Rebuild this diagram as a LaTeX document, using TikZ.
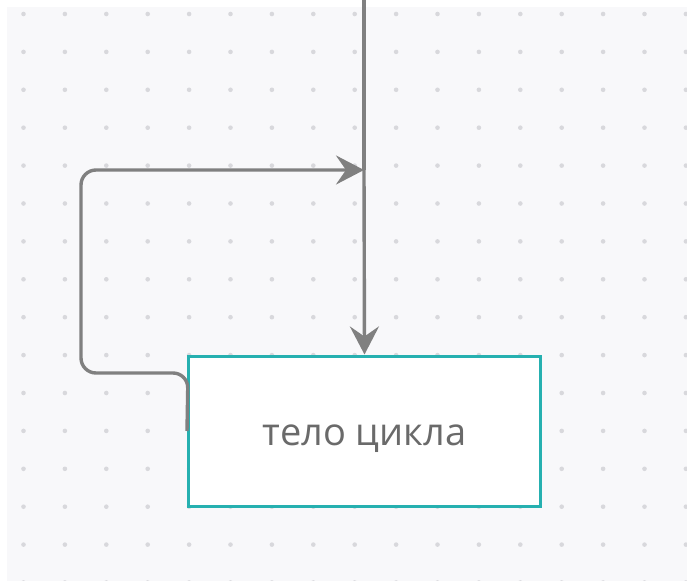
\documentclass[tikz,border=0pt]{standalone}
\usepackage{fontspec}
\setmainfont{Open Sans}
\usetikzlibrary{arrows.meta}
\definecolor{panel}{HTML}{F8F8FA}
\definecolor{dotc}{HTML}{D8D8DC}
\definecolor{linec}{HTML}{808080}
\definecolor{tealc}{HTML}{26B0B0}
\definecolor{textc}{HTML}{6A6A6A}
\tikzset{
  conn/.style={draw=linec, line width=3.4bp, rounded corners=15bp},
  tip/.style={-{Stealth[length=28bp,width=29bp,inset=10bp]}},
  bodybox/.style={draw=tealc, line width=3bp, fill=white, minimum width=352bp, minimum height=150bp, text=textc, font=\fontsize{38bp}{44bp}\selectfont},
}
\begin{document}
\begin{tikzpicture}[x=1bp,y=-1bp]
\useasboundingbox (0,0) rectangle (687,581);
\fill[white] (0,0) rectangle (687,581);
\fill[panel] (7,7) rectangle (687,581);
\foreach \i in {0,...,16}{
  \foreach \j in {0,...,15}{
    \fill[dotc] (23.5+41.4*\i,14+37.9*\j) circle (2.3bp);
  }
}
\node[bodybox] (body) at (364.5,431) {\raisebox{-14bp}[0pt][0pt]{тело цикла}};
\coordinate (top) at (364,0);
\coordinate (join) at (364,170);
\draw[conn] (top) -- (join);
\draw[conn,tip] (join) -- (body.north);
\draw[conn,tip] (body.west) -- (188,373) -- (81,373) -- (81,170) -- (join);
\end{tikzpicture}
\end{document}
